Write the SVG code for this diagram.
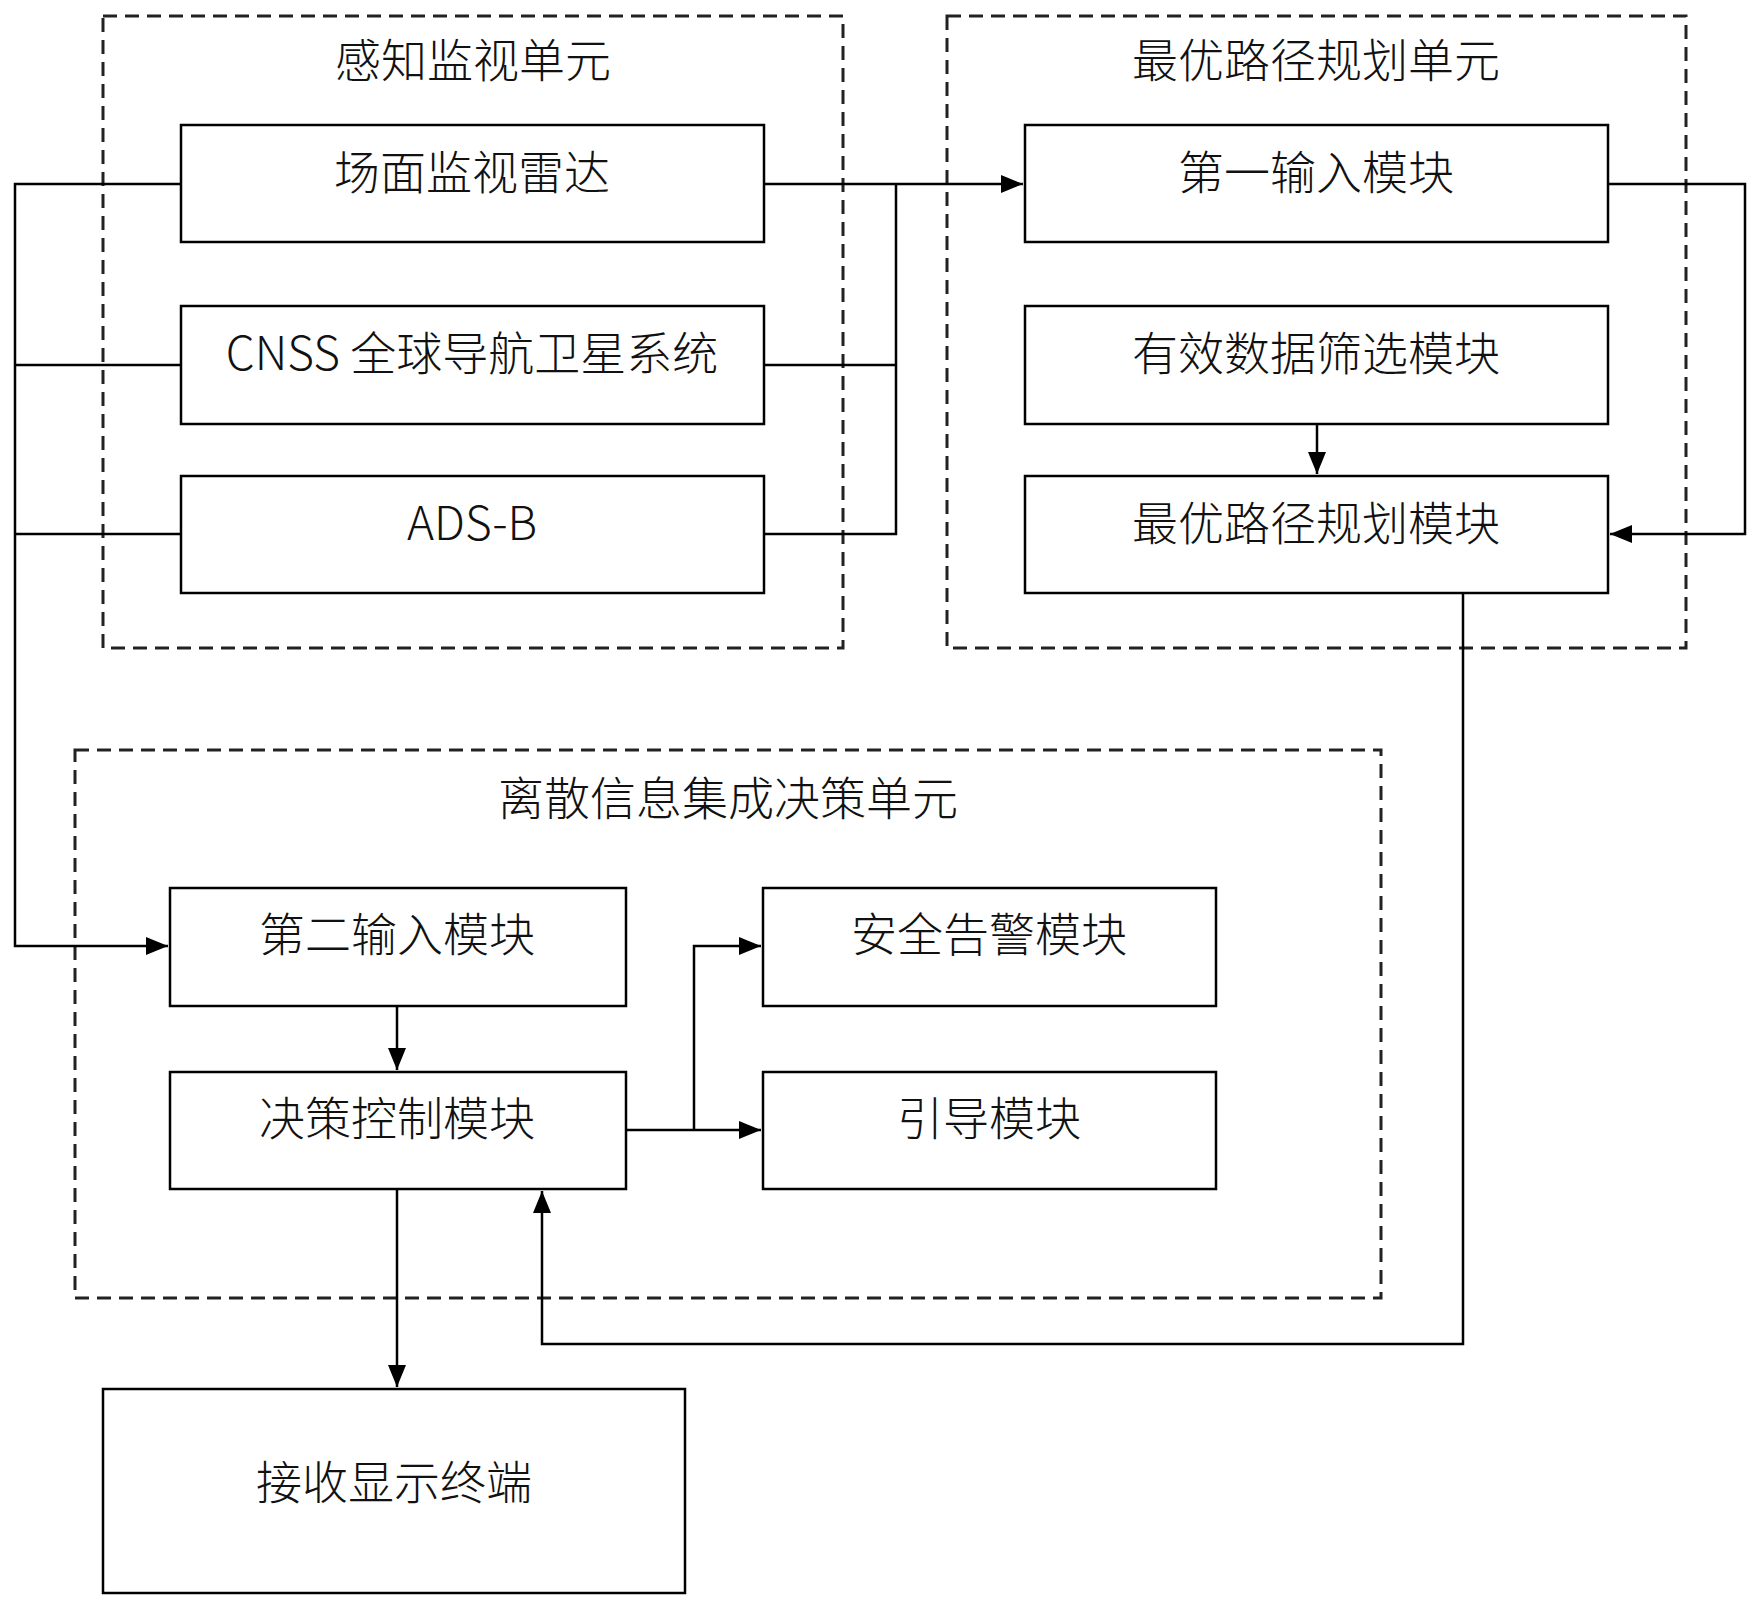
<svg xmlns="http://www.w3.org/2000/svg" width="1762" height="1610" viewBox="0 0 1762 1610">
<style>
.box{fill:#fff;stroke:#000;stroke-width:2.5}
.unit{fill:none;stroke:#222;stroke-width:3;stroke-dasharray:14 8}
.t{font-family:"Noto Sans CJK SC","Liberation Sans",sans-serif;font-size:46px;font-weight:300;fill:#111;text-anchor:middle;dominant-baseline:central}
.c{fill:none;stroke:#000;stroke-width:2.5}
</style>
<defs>
<marker id="a" markerWidth="22" markerHeight="18" refX="22" refY="9" orient="auto" markerUnits="userSpaceOnUse">
<path d="M0,0 L22,9 L0,18 z" fill="#000"/>
</marker>
</defs>
<rect width="1762" height="1610" fill="#fff"/>
<g id="unit-perception">
<rect class="unit" x="103" y="16" width="740" height="632"/>
<text class="t" x="473" y="57">感知监视单元</text>
</g>
<g id="unit-path">
<rect class="unit" x="947" y="16" width="739" height="632"/>
<text class="t" x="1316" y="57">最优路径规划单元</text>
</g>
<g id="unit-decision">
<rect class="unit" x="75" y="750" width="1306" height="548"/>
<text class="t" x="728" y="795">离散信息集成决策单元</text>
</g>
<g id="connectors">
<path class="c" d="M181,184 H15 V946 H168" marker-end="url(#a)"/>
<path class="c" d="M181,365 H15"/>
<path class="c" d="M181,534 H15"/>
<path class="c" d="M764,184 H1023" marker-end="url(#a)"/>
<path class="c" d="M764,365 H896"/>
<path class="c" d="M764,534 H896 V184"/>
<path class="c" d="M1608,184 H1745 V534 H1610" marker-end="url(#a)"/>
<path class="c" d="M1317,424 V474" marker-end="url(#a)"/>
<path class="c" d="M1463,593 V1344 H542 V1191" marker-end="url(#a)"/>
<path class="c" d="M397,1006 V1070" marker-end="url(#a)"/>
<path class="c" d="M626,1130 H761" marker-end="url(#a)"/>
<path class="c" d="M694,1130 V946 H761" marker-end="url(#a)"/>
<path class="c" d="M397,1189 V1387" marker-end="url(#a)"/>
</g>
<g id="node-radar">
<rect class="box" x="181" y="125" width="583" height="117"/>
<text class="t" x="472" y="169">场面监视雷达</text>
</g>
<g id="node-cnss">
<rect class="box" x="181" y="306" width="583" height="118"/>
<text class="t" x="472" y="350">CNSS 全球导航卫星系统</text>
</g>
<g id="node-adsb">
<rect class="box" x="181" y="476" width="583" height="117"/>
<text class="t" x="472" y="520">ADS-B</text>
</g>
<g id="node-input1">
<rect class="box" x="1025" y="125" width="583" height="117"/>
<text class="t" x="1316" y="169">第一输入模块</text>
</g>
<g id="node-filter">
<rect class="box" x="1025" y="306" width="583" height="118"/>
<text class="t" x="1316" y="350">有效数据筛选模块</text>
</g>
<g id="node-planner">
<rect class="box" x="1025" y="476" width="583" height="117"/>
<text class="t" x="1316" y="520">最优路径规划模块</text>
</g>
<g id="node-input2">
<rect class="box" x="170" y="888" width="456" height="118"/>
<text class="t" x="397" y="931">第二输入模块</text>
</g>
<g id="node-control">
<rect class="box" x="170" y="1072" width="456" height="117"/>
<text class="t" x="397" y="1115">决策控制模块</text>
</g>
<g id="node-alarm">
<rect class="box" x="763" y="888" width="453" height="118"/>
<text class="t" x="989" y="931">安全告警模块</text>
</g>
<g id="node-guide">
<rect class="box" x="763" y="1072" width="453" height="117"/>
<text class="t" x="989" y="1115">引导模块</text>
</g>
<g id="node-terminal">
<rect class="box" x="103" y="1389" width="582" height="204"/>
<text class="t" x="394" y="1479">接收显示终端</text>
</g>
</svg>
